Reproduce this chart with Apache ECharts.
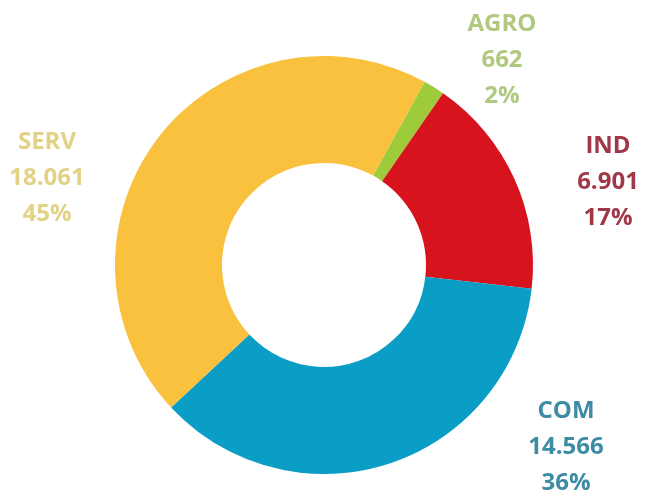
<!DOCTYPE html>
<html>
<head>
<meta charset="utf-8">
<script src="https://cdn.jsdelivr.net/npm/echarts@6/dist/echarts.min.js"></script>
<style>
  html, body { margin: 0; padding: 0; background: #ffffff; }
  #chart { width: 646px; height: 495px; }
</style>
</head>
<body>
<div id="chart"></div>
<script>
// Sectors, in clockwise order starting from the top-right
const categories = ['AGRO', 'IND', 'COM', 'SERV'];
const values = [662, 6901, 14566, 18061];

// Styling per sector
const sliceColors = ['#9dcb3a', '#d7141e', '#0a9dc5', '#f9c13d'];
const labelColors = ['#b0c97f', '#a03847', '#3d8ca3', '#e2d285'];
// Label block centres (px) around the ring
const labelSpots = [[502, 60], [608, 182], [566, 447], [47, 178]];

function thousands(n) {
  return String(n).replace(/\B(?=(\d{3})+(?!\d))/g, '.');
}

const chart = echarts.init(document.getElementById('chart'), null, { renderer: 'canvas' });

chart.setOption({
  backgroundColor: '#ffffff',
  animation: false,
  series: [{
    type: 'pie',
    center: [324, 265],
    radius: [102, 209],
    startAngle: 61.2,
    clockwise: true,
    silent: true,
    itemStyle: { borderWidth: 0 },
    label: {
      show: true,
      position: 'outside',
      fontFamily: '"Open Sans", sans-serif',
      fontWeight: 'bold',
      fontSize: 24,
      lineHeight: 36,
      align: 'center',
      formatter: p => p.name + '\n' + thousands(p.value) + '\n' + Math.round(p.percent) + '%'
    },
    labelLine: { show: false },
    labelLayout: params => {
      const spot = labelSpots[params.dataIndex];
      return { x: spot[0], y: spot[1], align: 'center', verticalAlign: 'middle' };
    },
    data: categories.map((name, i) => ({
      name: name,
      value: values[i],
      itemStyle: { color: sliceColors[i] },
      label: { color: labelColors[i] }
    }))
  }]
});
</script>
</body>
</html>
